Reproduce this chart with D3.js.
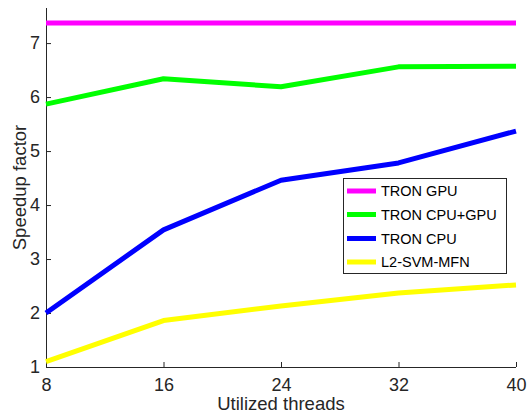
<!DOCTYPE html>
<html><head><meta charset="utf-8">
<script src="https://cdn.jsdelivr.net/npm/d3@7"></script>
<style>body{margin:0;background:#fff}svg{display:block;font-family:"Liberation Sans",Arial,sans-serif}</style>
</head><body><svg id="c" width="529" height="415"></svg>
<script>
const threads = [8, 16, 24, 32, 40];
const seriesNames = ["TRON GPU", "TRON CPU+GPU", "TRON CPU", "L2-SVM-MFN"];
const seriesColors = ["#ff00ff", "#00ff00", "#0000ff", "#ffff00"];
const tronGpu = [7.37, 7.37, 7.37, 7.37, 7.37];
const tronCpuGpu = [5.87, 6.34, 6.19, 6.56, 6.57];
const tronCpu = [2.0, 3.54, 4.46, 4.78, 5.37];
const l2svm = [1.1, 1.86, 2.13, 2.37, 2.52];
const xTicks = [8, 16, 24, 32, 40];
const yTicks = [1, 2, 3, 4, 5, 6, 7];
const seriesValues = [tronGpu, tronCpuGpu, tronCpu, l2svm];

const svg = d3.select("#c");
const L = 46, R = 516, T = 8, B = 367;
const x = d3.scaleLinear().domain([8, 40]).range([L, R]);
const y = d3.scaleLinear().domain([1, 7.65]).range([B, T]);
const ax = "#262626";

const gx = svg.append("g").attr("transform", `translate(0,${B})`)
  .call(d3.axisBottom(x).tickValues(xTicks).tickSizeInner(-5).tickSizeOuter(0).tickPadding(11).tickFormat(d3.format("d")));
const gy = svg.append("g").attr("transform", `translate(${L},0)`)
  .call(d3.axisLeft(y).tickValues(yTicks).tickSizeInner(-5).tickSizeOuter(0).tickPadding(6).tickFormat(d3.format("d")));
[gx, gy].forEach(g => {
  g.select(".domain").attr("stroke", ax).attr("stroke-width", 1);
  g.selectAll(".tick line").attr("stroke", ax);
  g.selectAll(".tick text").attr("fill", ax).attr("font-size", 18).attr("font-family", "Liberation Sans, Arial, sans-serif");
});
gy.select(".domain").attr("d", `M0.5,${y(1)}V${T}`);
gx.select(".domain").attr("d", `M${L},0.5H${R}`);

const line = d3.line().x((d, i) => x(threads[i])).y(d => y(d));
seriesValues.forEach((vals, k) => {
  svg.append("path").datum(vals).attr("d", line).attr("fill", "none")
    .attr("stroke", seriesColors[k]).attr("stroke-width", 5).attr("stroke-linejoin", "round");
});

svg.append("text").attr("x", (L + R) / 2).attr("y", 410).attr("text-anchor", "middle")
  .attr("font-size", 18.5).attr("fill", ax).text("Utilized threads");
svg.append("text").attr("transform", `translate(26,${(T + B) / 2}) rotate(-90)`).attr("text-anchor", "middle")
  .attr("font-size", 18.5).attr("fill", ax).text("Speedup factor");

const lg = svg.append("g");
lg.append("rect").attr("x", 343.5).attr("y", 178.5).attr("width", 163).attr("height", 95)
  .attr("fill", "#fff").attr("stroke", ax).attr("stroke-width", 1);
const ly = [191, 214.5, 238.5, 262];
seriesNames.forEach((n, k) => {
  lg.append("line").attr("x1", 347).attr("x2", 376).attr("y1", ly[k]).attr("y2", ly[k])
    .attr("stroke", seriesColors[k]).attr("stroke-width", 5);
  lg.append("text").attr("x", 381).attr("y", ly[k]).attr("dy", "0.35em")
    .attr("font-size", 14.5).attr("fill", "#000").text(n);
});
</script></body></html>
